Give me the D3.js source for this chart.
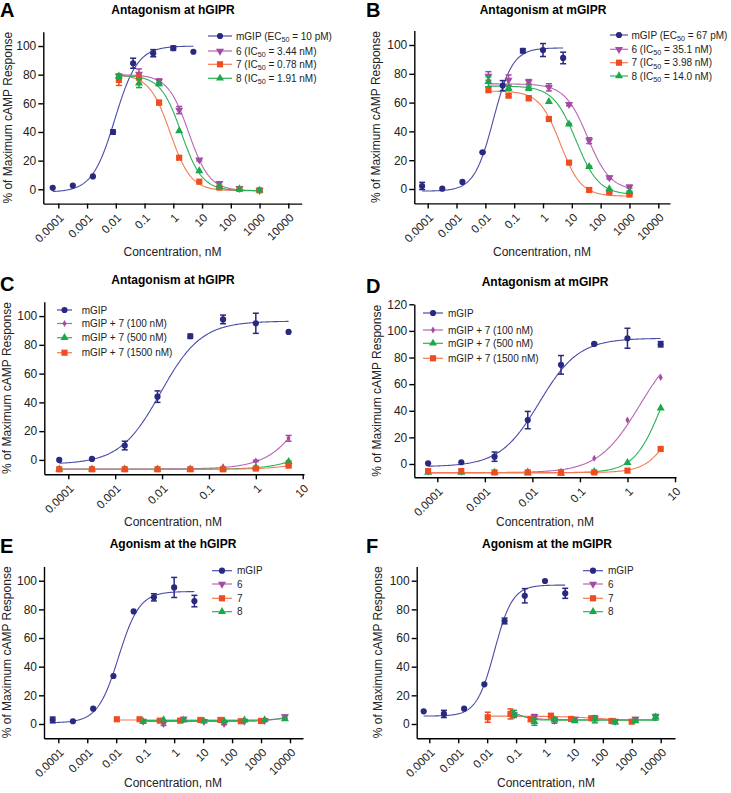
<!DOCTYPE html>
<html><head><meta charset="utf-8">
<script src="https://cdn.jsdelivr.net/npm/d3@7"></script>
<style>
body{margin:0;background:#fff;}
svg{display:block;}
</style></head><body>
<svg id="c" width="731" height="793"></svg>
<script>
// ---------- DATA ----------
const concAgo   = [6.4e-5, 3.2e-4, 1.6e-3, 8e-3, 0.04, 0.2, 1, 5];
const concAnt   = [0.0128, 0.064, 0.32, 1.6, 8, 40, 200, 1000];
const concAnt7  = [0.0105, 0.064, 0.32, 1.6, 8, 40, 200, 1000];
const concAnt68 = [0.085, 0.43, 2.13, 10.7, 53, 267, 1333, 6667];

const ticksWide   = [1e-4, 1e-3, 1e-2, 0.1, 1, 10, 100, 1000, 10000];
const labelsWide  = ["0.0001","0.001","0.01","0.1","1","10","100","1000","10000"];
const ticksNarrow = [1e-4, 1e-3, 1e-2, 0.1, 1, 10];
const labelsNarrow= ["0.0001","0.001","0.01","0.1","1","10"];
const yTicks100 = [0,20,40,60,80,100];
const yTicks120 = [0,20,40,60,80,100,120];

// Panel A
const aMGIP = [1, 2.6, 9, 40, 88, 95, 98.5, 96],        aMGIPErr = [0,0,0,1.5,3.5,2.5,1.5,0];
const a6    = [79, 80.5, 75.6, 55.3, 20.5, 4.2, 0.7, -0.7], a6Err = [0,3.5,1.5,2.5,0.8,0,0,0];
const a7    = [76.3, 78, 60.5, 22, 5.3, 1.2, 0.2, -0.7],   a7Err = [3.8,1.5,1.5,0,0,0,0,0];
const a8    = [79, 74, 73.5, 40.7, 12.8, 1.9, 0.2, -0.7],  a8Err = [1.5,3,1,0,0,0,0,0];
const aFit  = {mGIP:[-2,100,0.0093,1.1], c6:[-1,80,3.44,-1.2], c7:[-1,80,0.78,-1.2], c8:[-1,79.5,1.91,-1.2]};
// Panel B
const bMGIP = [2.1, 0.2, 4.9, 25.5, 71.8, 96, 96.5, 91],   bMGIPErr = [2.5,0,0,0.5,3.5,1.5,4.5,4];
const b6    = [78.5, 75.7, 74.5, 70.6, 58.8, 33.6, 7.9, 1.6], b6Err = [3,3.5,1.5,2.5,1,2,1,1];
const b7    = [69, 64.8, 63, 48.6, 18.3, -0.7, -2.3, -3.9],   b7Err = [2,1,1.5,0.5,0.5,1,0.5,0.5];
const b8    = [74.5, 70, 70, 60.6, 45, 15.5, 0, -1.9],        b8Err = [3.5,1.5,1.5,0,0.5,0.5,0,0.5];
const bFit  = {mGIP:[-1.5,98,0.019,1.3], c6:[-1,73,35.1,-1.1], c7:[-5,68,3.98,-1.2], c8:[-4,71.5,14,-1.1]};
// Panel C
const cMGIP = [0, 0.7, 10, 44, 86, 97.7, 95, 89],           cMGIPErr = [0,0,3,4,1.5,3,7,0];
const c100  = [-6.3,-6.3,-6.3,-6.3,-6,-4.7,-0.7,15],        c100Err = [0,0,0,0,0,0,0.5,2];
const c500  = [-6.5,-6.5,-6.5,-6.5,-6.5,-6.3,-5.1,-1.2],    c500Err = [0,0,0,0,0,0,0,0.5];
const c1500 = [-6.5,-6.5,-6.5,-6.5,-6.5,-6.5,-6,-4],        c1500Err = [0,0,0,0,0,0,0.5,0.5];
const cFit  = {mGIP:[-3,96.5,0.0093,1], m100:[-6.3,96.5,19,1], m500:[-6.5,96.5,91,1], m1500:[-6.5,96.5,200,1]};
// Panel D
const dMGIP = [0.5, 1.3, 5.5, 33, 74.5, 90.2, 94.5, 90],    dMGIPErr = [0,0,3.5,6.5,7,0.5,7.5,2];
const d100  = [-6.3,-6.3,-6.3,-5.3,-5.5,4.3,33,65],         d100Err = [0,0,0,0,0,0,0,0];
const d500  = [-6.3,-6.3,-6.3,-6.8,-7,-5.8,1,42],           d500Err = [0,0,0,0,0,0,0,0];
const d1500 = [-5.3,-5.3,-6.3,-6.3,-6.3,-6.3,-5,11.3],      d1500Err = [0,0,0,0,0,0,0,0];
const dFit  = {mGIP:[-2,94.5,0.014,1.05], m100:[-6.5,94.5,1.8,1], m500:[-6.5,94.5,5.3,1.5], m1500:[-6.5,94.5,14,1.5]};
// Panel E
const eMGIP = [2.8, 1.9, 10.7, 33.5, 78.6, 88.4, 95.3, 85.8], eMGIPErr = [2,0,0,0,0,2.5,7,4];
const e6    = [2.0, 0.5, 3.5, 1.9, 0.5, 2.0, 2.6, 5.1],       e6Err = [0,1.5,1,0,1,0,0,1];
const e7    = [3.3, 3.3, 2.3, 2.3, 2.8, 2.8, 1.9, 2.1],       e7Err = [0,0,1,0,0,1.5,0,1.5];
const e8    = [1.6, 2.8, 2.6, 1.9, 2.1, 2.6, 2.8, 3.5],       e8Err = [0,0,0,0,0,0,0,0];
const eFit  = {mGIP:[0.8,92.5,0.012,1.2], c6:[1.8,5.5,4000,1.5], c7:[2.8,2.8,1,1], c8:[2.4,4.2,3000,1.5]};
// Panel F
const fMGIP = [8.8, 7, 10.7, 27.7, 71.9, 89.5, 99.8, 91.2],   fMGIPErr = [0,2.5,0,0,2,5,0,3.5];
const f6    = [6.5, 5.1, 2.5, 3.5, 3.8, 2.0, 3.5, 5.1],       f6Err = [1,1.5,2,0,1,0,1,1];
const f7    = [4.7, 7, 3.3, 5.8, 3.5, 4.0, 2.1, 1.6],         f7Err = [3.5,3.5,1.5,0.5,0.5,1,0.5,0.5];
const f8    = [7, 1.6, 2.8, 2.1, 3.3, 1.2, 2.1, 4.7],         f8Err = [2.5,2.5,1,0.5,2.5,1,0.5,2];
const fFit  = {mGIP:[5.5,97,0.018,1.4], c6:[3,6,0.3,-2], c7:[1.8,5.5,100,-0.6], c8:[2.7,8,0.18,-2.5]};

// ---------- STYLE ----------
const FONT = '"Liberation Sans", Arial, Helvetica, sans-serif';
const COL = {
  navy:  {m:'#28297f', l:'#4b4ca6'},
  purple:{m:'#a34ba3', l:'#b865b8'},
  orange:{m:'#ef4c21', l:'#f27a55'},
  green: {m:'#1ba84a', l:'#2cb158'}
};
const SYM = {
  circle: d3.symbol().type(d3.symbolCircle).size(30)(),
  square: d3.symbol().type(d3.symbolSquare).size(38)(),
  tri:    d3.symbol().type(d3.symbolTriangle).size(28)(),
  down:   d3.symbol().type(d3.symbolTriangle).size(28)(),
  diamond:d3.symbol().type(d3.symbolDiamond).size(14)()
};
const LEG_FS = 10;

function S(label, conc, vals, err, fit, col, sym){ return {label, conc, vals, err, fit, col, sym}; }

const panels = [
 {letter:'A', title:'Antagonism at hGIPR', lx:0, ly:17, tx:173, ty:14,
  left:43.3, right:301.7, t0:58.3, t1:288.3, tl0:-4, tl1:4, yTop:31.7, yBot:203.6, yMin:-10, yMax:110,
  yT:yTicks100, xT:ticksWide, xL:labelsWide, xTitleX:172.5, xTitleY:256, yTitleX:7.5,
  leg:{x1:208, x2:232, tx:236, ys:[36,51,64.3,78.3]},
  series:[S('mGIP (EC_50 = 10 pM)',concAgo,aMGIP,aMGIPErr,aFit.mGIP,COL.navy,'circle'),
          S('6 (IC_50 = 3.44 nM)',concAnt,a6,a6Err,aFit.c6,COL.purple,'down'),
          S('7 (IC_50 = 0.78 nM)',concAnt,a7,a7Err,aFit.c7,COL.orange,'square'),
          S('8 (IC_50 = 1.91 nM)',concAnt,a8,a8Err,aFit.c8,COL.green,'tri')]},
 {letter:'B', title:'Antagonism at mGIPR', lx:366, ly:17, tx:543, ty:14,
  left:414.3, right:670, t0:427.7, t1:658.3, tl0:-4, tl1:4, yTop:30.6, yBot:203.4, yMin:-10, yMax:110,
  yT:yTicks100, xT:ticksWide, xL:labelsWide, xTitleX:542, xTitleY:256, yTitleX:376,
  leg:{x1:610, x2:628, tx:631.5, ys:[35,49.3,62.7,76]},
  series:[S('mGIP (EC_50 = 67 pM)',concAgo,bMGIP,bMGIPErr,bFit.mGIP,COL.navy,'circle'),
          S('6 (IC_50 = 35.1 nM)',concAnt,b6,b6Err,bFit.c6,COL.purple,'down'),
          S('7 (IC_50 = 3.98 nM)',concAnt,b7,b7Err,bFit.c7,COL.orange,'square'),
          S('8 (IC_50 = 14.0 nM)',concAnt,b8,b8Err,bFit.c8,COL.green,'tri')]},
 {letter:'C', title:'Antagonism at hGIPR', lx:0, ly:291, tx:173, ty:284,
  left:44.3, right:304, t0:68.3, t1:302.7, tl0:-4, tl1:1, yTop:301.7, yBot:474.3, yMin:-10, yMax:110,
  yT:yTicks100, xT:ticksNarrow, xL:labelsNarrow, xTitleX:173, xTitleY:526, yTitleX:7,
  leg:{x1:57, x2:72, tx:81.7, ys:[310,323.5,337.7,352.7]},
  series:[S('mGIP',concAgo,cMGIP,cMGIPErr,cFit.mGIP,COL.navy,'circle'),
          S('mGIP + 7 (100 nM)',concAgo,c100,c100Err,cFit.m100,COL.purple,'diamond'),
          S('mGIP + 7 (500 nM)',concAgo,c500,c500Err,cFit.m500,COL.green,'tri'),
          S('mGIP + 7 (1500 nM)',concAgo,c1500,c1500Err,cFit.m1500,COL.orange,'square')]},
 {letter:'D', title:'Antagonism at mGIPR', lx:366, ly:293, tx:545, ty:286,
  left:414.3, right:676, t0:437.3, t1:675, tl0:-4, tl1:1, yTop:304.3, yBot:477.3, yMin:-10, yMax:120,
  yT:yTicks120, xT:ticksNarrow, xL:labelsNarrow, xTitleX:545, xTitleY:526, yTitleX:377,
  leg:{x1:423, x2:443, tx:448, ys:[313,330,343.3,358.3]},
  series:[S('mGIP',concAgo,dMGIP,dMGIPErr,dFit.mGIP,COL.navy,'circle'),
          S('mGIP + 7 (100 nM)',concAgo,d100,d100Err,dFit.m100,COL.purple,'diamond'),
          S('mGIP + 7 (500 nM)',concAgo,d500,d500Err,dFit.m500,COL.green,'tri'),
          S('mGIP + 7 (1500 nM)',concAgo,d1500,d1500Err,dFit.m1500,COL.orange,'square')]},
 {letter:'E', title:'Agonism at the hGIPR', lx:0, ly:553, tx:173, ty:548,
  left:44, right:303, t0:58.3, t1:290, tl0:-4, tl1:4, yTop:566.4, yBot:738.3, yMin:-10, yMax:110,
  yT:yTicks100, xT:ticksWide, xL:labelsWide, xTitleX:173, xTitleY:787, yTitleX:7,
  leg:{x1:212, x2:232, tx:237, ys:[570.7,584,598.3,611.7]},
  series:[S('mGIP',concAgo,eMGIP,eMGIPErr,eFit.mGIP,COL.navy,'circle'),
          S('6',concAnt68,e6,e6Err,eFit.c6,COL.purple,'down'),
          S('7',concAnt7,e7,e7Err,eFit.c7,COL.orange,'square'),
          S('8',concAnt68,e8,e8Err,eFit.c8,COL.green,'tri')]},
 {letter:'F', title:'Agonism at the mGIPR', lx:366, ly:553, tx:547, ty:548,
  left:416.7, right:675, t0:429.3, t1:660.7, tl0:-4, tl1:4, yTop:566.4, yBot:738.3, yMin:-10, yMax:110,
  yT:yTicks100, xT:ticksWide, xL:labelsWide, xTitleX:546, xTitleY:787, yTitleX:378,
  leg:{x1:583, x2:603, tx:608, ys:[570.7,584,598.3,611.7]},
  series:[S('mGIP',concAgo,fMGIP,fMGIPErr,fFit.mGIP,COL.navy,'circle'),
          S('6',concAnt68,f6,f6Err,fFit.c6,COL.purple,'down'),
          S('7',concAnt7,f7,f7Err,fFit.c7,COL.orange,'square'),
          S('8',concAnt68,f8,f8Err,fFit.c8,COL.green,'tri')]}
];

// ---------- DRAW ----------
const svg = d3.select('#c').attr('font-family', FONT);

function fourPL(f, xv){
  const [b,t,ec,h] = f;
  return b + (t-b)/(1+Math.pow(10,(Math.log10(ec)-Math.log10(xv))*h));
}
function addLabel(sel, label, size){
  const parts = label.split('_50');
  sel.append('tspan').text(parts[0]);
  if(parts.length>1){
    sel.append('tspan').attr('font-size', size*0.72).attr('dy', 2.5).text('50');
    sel.append('tspan').attr('dy', -2.5).text(parts[1]);
  }
}
function marker(g, sym, col, cx, cy){
  g.append('path').attr('d', SYM[sym])
   .attr('transform', `translate(${cx},${cy})` + (sym==='down' ? ' rotate(180)' : ''))
   .attr('fill', col.m).attr('stroke', 'none');
}

panels.forEach(p=>{
  const ppd = (p.t1-p.t0)/(p.tl1-p.tl0);
  const dmin = p.tl0 - (p.t0-p.left)/ppd, dmax = p.tl1 + (p.right-p.t1)/ppd;
  const x = d3.scaleLog().domain([Math.pow(10,dmin), Math.pow(10,dmax)]).range([p.left, p.right]);
  const y = d3.scaleLinear().domain([p.yMin, p.yMax]).range([p.yBot, p.yTop]);
  const g = svg.append('g');

  // letter + title
  g.append('text').attr('x', p.lx).attr('y', p.ly).attr('font-size', 20).attr('font-weight','bold').text(p.letter);
  g.append('text').attr('x', p.tx).attr('y', p.ty).attr('font-size', 12).attr('font-weight','bold')
    .attr('text-anchor','middle').text(p.title);

  // axes
  const xa = g.append('g').attr('transform', `translate(0,${p.yBot})`)
    .call(d3.axisBottom(x).tickValues(p.xT).tickFormat((d,i)=>p.xL[i]).tickSize(5).tickSizeOuter(0));
  xa.attr('font-family', FONT).attr('font-size', 11.5);
  xa.select('.domain').attr('stroke','#000').attr('stroke-width',1.4);
  xa.selectAll('.tick line').attr('stroke','#000').attr('stroke-width',1.4);
  xa.selectAll('.tick text').attr('fill','#222').attr('y',0).attr('dy','0.35em').attr('x',0)
    .attr('text-anchor','end').attr('transform','translate(3,12) rotate(-45)');

  const ya = g.append('g').attr('transform', `translate(${p.left},0)`)
    .call(d3.axisLeft(y).tickValues(p.yT).tickSize(5).tickSizeOuter(0));
  ya.attr('font-family', FONT).attr('font-size', 12);
  ya.select('.domain').attr('stroke','#000').attr('stroke-width',1.4);
  ya.selectAll('.tick line').attr('stroke','#000').attr('stroke-width',1.4);
  ya.selectAll('.tick text').attr('fill','#222').attr('x',-7);

  // axis titles
  g.append('text').attr('x', p.xTitleX).attr('y', p.xTitleY).attr('text-anchor','middle')
    .attr('font-size', 12).attr('fill','#222').text('Concentration, nM');
  g.append('text').attr('transform', `translate(${p.yTitleX},${(p.yTop+p.yBot)/2}) rotate(-90)`)
    .attr('text-anchor','middle').attr('dy','0.35em').attr('font-size', 12).attr('fill','#222')
    .text('% of Maximum cAMP Response');

  // fit curves
  const line = d3.line().x(d=>x(d[0])).y(d=>y(d[1]));
  p.series.forEach(s=>{
    const lo = Math.log10(d3.min(s.conc)), hi = Math.log10(d3.max(s.conc));
    const pts = d3.range(0, 201).map(i=>{ const xv = Math.pow(10, lo + (hi-lo)*i/200); return [xv, fourPL(s.fit, xv)]; });
    g.append('path').attr('d', line(pts)).attr('fill','none').attr('stroke', s.col.l).attr('stroke-width', 1.1);
  });

  // error bars + markers
  p.series.forEach(s=>{
    s.conc.forEach((c,i)=>{
      const cx = x(c), v = s.vals[i], e = s.err[i];
      if(e>0){
        const y1 = y(v-e), y2 = y(v+e);
        g.append('line').attr('x1',cx).attr('x2',cx).attr('y1',y1).attr('y2',y2).attr('stroke',s.col.m).attr('stroke-width',1.5);
        [y1,y2].forEach(yy=> g.append('line').attr('x1',cx-3).attr('x2',cx+3).attr('y1',yy).attr('y2',yy).attr('stroke',s.col.m).attr('stroke-width',1.5));
      }
      marker(g, s.sym, s.col, cx, y(v));
    });
  });

  // legend
  p.series.forEach((s,i)=>{
    const ly = p.leg.ys[i];
    g.append('line').attr('x1',p.leg.x1).attr('x2',p.leg.x2).attr('y1',ly).attr('y2',ly).attr('stroke',s.col.l).attr('stroke-width',1.2);
    marker(g, s.sym, s.col, (p.leg.x1+p.leg.x2)/2, ly);
    const t = g.append('text').attr('x',p.leg.tx).attr('y',ly).attr('dy','0.35em').attr('font-size',LEG_FS).attr('fill','#222');
    addLabel(t, s.label, LEG_FS);
  });
});
</script>
</body></html>
